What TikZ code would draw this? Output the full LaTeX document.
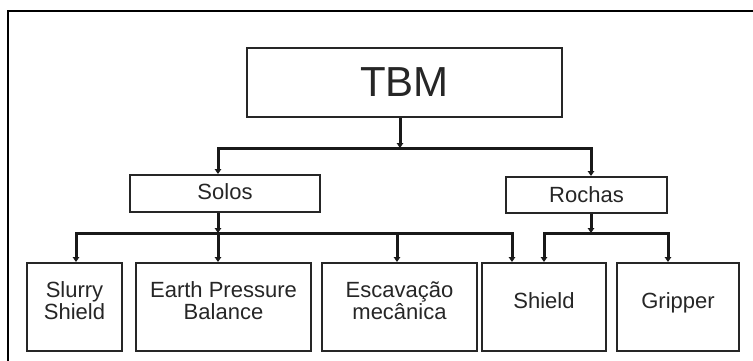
\documentclass[tikz,border=0pt]{standalone}
\usepackage{fontspec}
\setmainfont{Liberation Sans}
\usetikzlibrary{arrows.meta}
\newcommand\sinkby[1]{\rule[-#1]{0pt}{#1}}
\begin{document}
\begin{tikzpicture}[x=1pt,y=-1pt,
  box/.style={draw=black!85, line width=2pt, inner sep=0pt, align=center,
    text=black!85, font=\fontsize{22}{22}\selectfont},
  conn/.style={line width=3pt, black!90, line cap=rect},
  arr/.style={line width=3pt, black!90, -{Triangle[length=5pt,width=6.5pt]}},
  frame/.style={line width=2pt, black}]
\useasboundingbox (0,0) rectangle (753,361);
\fill[white] (0,0) rectangle (753,361);
\draw[frame] (8,365) -- (8,11) -- (760,11);

% boxes
\node[box, minimum width=315pt, minimum height=69pt, font=\fontsize{42}{44}\selectfont] (TBM) at (404.5,82.5) {TBM};
\node[box, minimum width=190pt, minimum height=37pt] (Solos) at (225,193.5) {Solos\sinkby{4pt}};
\node[box, minimum width=161pt, minimum height=36pt] (Rochas) at (586.5,195) {Rochas};
\node[box, minimum width=95pt, minimum height=88pt] (Slurry) at (74.5,307) {Slurry\\Shield\sinkby{12pt}};
\node[box, minimum width=175pt, minimum height=88pt] (EPB) at (223.5,307) {Earth Pressure\\Balance\sinkby{12pt}};
\node[box, minimum width=155pt, minimum height=88pt] (Esc) at (399.5,307) {Escavação\\mecânica\sinkby{12pt}};
\node[box, minimum width=124pt, minimum height=88pt] (Shield) at (544,307) {Shield\sinkby{12pt}};
\node[box, minimum width=122pt, minimum height=88pt] (Gripper) at (678,307) {Gripper\sinkby{12pt}};

% junction points
\coordinate (t0) at (400,148);
\coordinate (sJ) at (218,148);
\coordinate (rJ) at (591,148);
\coordinate (s0) at (218,233);
\coordinate (sA) at (76,233);
\coordinate (sC) at (397,233);
\coordinate (sD) at (512,233);
\coordinate (r0) at (591,233);
\coordinate (rA) at (544,233);
\coordinate (rB) at (668,233);

% level 1
\draw[arr] (t0 |- TBM.south) -- (t0);
\draw[conn] (sJ) -- (rJ);
\draw[arr] (sJ) -- (sJ |- Solos.north);
\draw[arr] (rJ) -- (rJ |- Rochas.north);

% Solos branch
\draw[arr] (s0 |- Solos.south) -- (s0);
\draw[conn] (sA) -- (sD);
\draw[arr] (sA) -- (sA |- Slurry.north);
\draw[arr] (s0) -- (s0 |- EPB.north);
\draw[arr] (sC) -- (sC |- Esc.north);
\draw[arr] (sD) -- (sD |- Shield.north);

% Rochas branch
\draw[arr] (r0 |- Rochas.south) -- (r0);
\draw[conn] (rA) -- (rB);
\draw[arr] (rA) -- (rA |- Shield.north);
\draw[arr] (rB) -- (rB |- Gripper.north);
\end{tikzpicture}
\end{document}
